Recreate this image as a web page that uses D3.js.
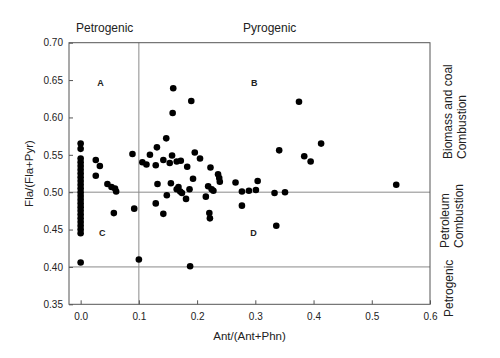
<!DOCTYPE html>
<html><head><meta charset="utf-8">
<script src="https://cdn.jsdelivr.net/npm/d3@7"></script>
<style>body{margin:0;background:#fff}svg{display:block}text{font-family:Arial,"Liberation Sans",sans-serif;fill:#222}</style>
</head><body><svg id="c" width="500" height="358"></svg>
<script>
// Data
const xTicks = [0.0, 0.1, 0.2, 0.3, 0.4, 0.5, 0.6];
const yTicks = [0.35, 0.40, 0.45, 0.50, 0.55, 0.60, 0.65, 0.70];
const zeroColumnY = [0.565, 0.558, 0.545, 0.540, 0.535, 0.530, 0.525, 0.520, 0.515, 0.510, 0.505, 0.500, 0.495, 0.490, 0.485, 0.480, 0.475, 0.470, 0.465, 0.460, 0.455, 0.450, 0.445, 0.406];
const antRatio = [0.026,0.033,0.026,0.046,0.053,0.059,0.061,0.057,0.089,0.092,0.100,0.106,0.113,0.119,0.129,0.131,0.142,0.147,0.153,0.157,0.158,0.159,0.165,0.172,0.183,0.190,0.196,0.205,0.223,0.236,0.238,0.193,0.239,0.132,0.129,0.142,0.148,0.155,0.165,0.168,0.171,0.174,0.181,0.187,0.188,0.215,0.219,0.225,0.228,0.221,0.222,0.266,0.277,0.277,0.289,0.301,0.304,0.333,0.351,0.336,0.341,0.375,0.384,0.395,0.413,0.542];
const flaRatio = [0.543,0.535,0.522,0.511,0.507,0.505,0.501,0.472,0.551,0.478,0.410,0.540,0.537,0.550,0.536,0.560,0.543,0.572,0.539,0.549,0.606,0.639,0.541,0.542,0.534,0.622,0.553,0.545,0.533,0.524,0.519,0.518,0.514,0.511,0.485,0.471,0.496,0.512,0.504,0.507,0.501,0.499,0.491,0.504,0.401,0.494,0.508,0.504,0.502,0.472,0.465,0.513,0.501,0.482,0.502,0.503,0.515,0.499,0.500,0.455,0.556,0.621,0.548,0.541,0.565,0.510];
const hLines = [0.50, 0.40];
const vLines = [0.1];
const quadrantLabels = [{t:"A",x:0.034,y:0.645},{t:"B",x:0.298,y:0.645},{t:"C",x:0.037,y:0.445},{t:"D",x:0.297,y:0.445}];

const points = zeroColumnY.map(y => ({x:0, y})).concat(antRatio.map((x,i)=>({x, y:flaRatio[i]})));

const svg = d3.select("#c");
const L=69, R=430, T=42.7, B=304.3;
const x = d3.scaleLinear().domain([-0.02,0.6]).range([L,R]);
const y = d3.scaleLinear().domain([0.35,0.70]).range([B,T]);

// reference lines
svg.selectAll(".hl").data(hLines).enter().append("line")
  .attr("x1",L).attr("x2",R).attr("y1",d=>y(d)).attr("y2",d=>y(d))
  .attr("stroke","#8a8a8a").attr("stroke-width",1);
svg.selectAll(".vl").data(vLines).enter().append("line")
  .attr("x1",d=>x(d)).attr("x2",d=>x(d)).attr("y1",T).attr("y2",B)
  .attr("stroke","#8a8a8a").attr("stroke-width",1);

// axes
const xAxis = d3.axisBottom(x).tickValues(xTicks).tickFormat(d3.format(".1f")).tickSizeInner(-4).tickSizeOuter(0).tickPadding(9);
const yAxis = d3.axisLeft(y).tickValues(yTicks).tickFormat(d3.format(".2f")).tickSizeInner(-4).tickSizeOuter(0).tickPadding(6);
const gx = svg.append("g").attr("transform",`translate(0,${B})`).call(xAxis);
const gy = svg.append("g").attr("transform",`translate(${L},0)`).call(yAxis);
[gx,gy].forEach(g=>{
  g.select(".domain").remove();
  g.selectAll("line").attr("stroke","#555");
  g.selectAll("text").style("font-size","10px").attr("fill","#222");
});
// frame
svg.append("rect").attr("x",L).attr("y",T).attr("width",R-L).attr("height",B-T)
  .attr("fill","none").attr("stroke","#555").attr("stroke-width",1);

// points
svg.selectAll(".pt").data(points).enter().append("circle")
  .attr("cx",d=>x(d.x)).attr("cy",d=>y(d.y)).attr("r",3.3).attr("fill","#000");

// quadrant labels
svg.selectAll(".ql").data(quadrantLabels).enter().append("text")
  .attr("x",d=>x(d.x)).attr("y",d=>y(d.y)).attr("text-anchor","middle")
  .attr("dominant-baseline","middle")
  .style("font-size","9px").style("font-weight","bold").text(d=>d.t);

// titles
svg.append("text").attr("x",(L+R)/2).attr("y",340).attr("text-anchor","middle").style("font-size","11.5px").text("Ant/(Ant+Phn)");
svg.append("text").attr("transform",`translate(33,${(T+B)/2}) rotate(-90)`).attr("text-anchor","middle").style("font-size","11.5px").text("Fla/(Fla+Pyr)");
svg.append("text").attr("x",76).attr("y",32).style("font-size","12px").text("Petrogenic");
svg.append("text").attr("x",243).attr("y",32).style("font-size","12px").text("Pyrogenic");

// right side labels
function rlab(xp, yp, t){
  svg.append("text").attr("transform",`translate(${xp},${yp}) rotate(-90)`).attr("text-anchor","start").style("font-size","12px").text(t);
}
rlab(452,159,"Biomass and coal");
rlab(466,159,"Combustion");
rlab(449,248,"Petroleum");
rlab(463,248,"Combustion");
rlab(453,317,"Petrogenic");
</script></body></html>
